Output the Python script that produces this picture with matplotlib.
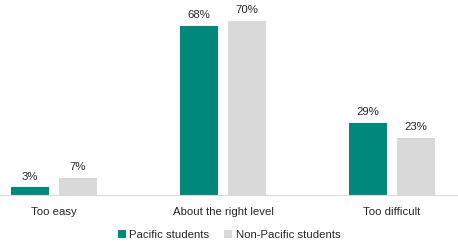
import matplotlib
matplotlib.use('Agg')
from matplotlib import pyplot as plt
import numpy as np

# data
categories = ['Too easy', 'About the right level', 'Too difficult']
pacific = [3, 68, 29]
non_pacific = [7, 70, 23]
series_names = ['Pacific students', 'Non-Pacific students']

teal = '#00897b'
grey = '#d9d9d9'
txt = '#262626'

plt.rcParams['font.family'] = ['Liberation Sans', 'DejaVu Sans']

fig = plt.figure(figsize=(4.58, 2.49), dpi=100)
ax = fig.add_axes([0, 0.217, 1, 0.783])

x = np.arange(len(categories))
w = 0.225
off = 0.142
b0 = ax.bar(x - off, pacific, w, color=teal, label=series_names[0])
b1 = ax.bar(x + off, non_pacific, w, color=grey, label=series_names[1])

for bars, vals in ((b0, pacific), (b1, non_pacific)):
    for b, v in zip(bars, vals):
        ax.text(b.get_x() + b.get_width() / 2, v + 2.2, f'{v}%',
                ha='center', va='bottom', fontsize=8.2, color=txt)

ax.set_xlim(-0.32, 2.39)
ax.set_ylim(0, 78.3)
for s in ['top', 'right', 'left']:
    ax.spines[s].set_visible(False)
ax.spines['bottom'].set_color('#d9d9d9')
ax.set_yticks([])
ax.set_xticks(x)
ax.set_xticklabels(categories, fontsize=8.2, color=txt)
ax.tick_params(axis='x', length=0, pad=9)

fig.legend(loc='center', bbox_to_anchor=(0.5, 0.056), ncol=2, frameon=False,
           fontsize=8.2, handlelength=0.7, handleheight=0.7, handletextpad=0.3,
           columnspacing=1.3, labelcolor=txt)

fig.savefig('out.png', dpi=100)
